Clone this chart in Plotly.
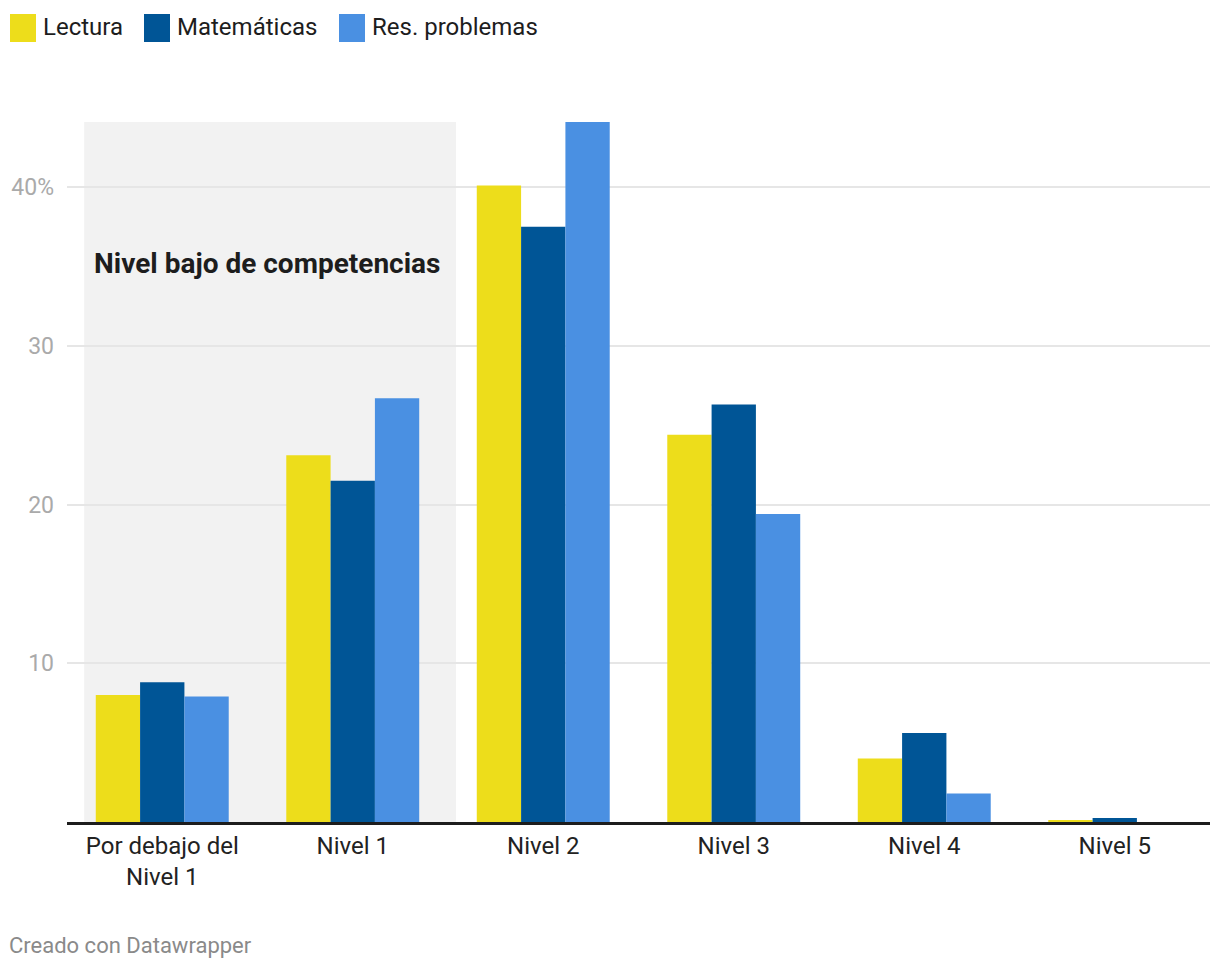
import plotly.graph_objects as go

categories = ["Por debajo del<br>Nivel 1", "Nivel 1", "Nivel 2", "Nivel 3", "Nivel 4", "Nivel 5"]
lectura = [8.0, 23.1, 40.1, 24.4, 4.0, 0.12]
matematicas = [8.8, 21.5, 37.5, 26.3, 5.6, 0.25]
res_problemas = [7.9, 26.7, 44.1, 19.4, 1.8, 0.0]
series_names = ["Lectura", "Matemáticas", "Res. problemas"]
colors = ["#EDDD1B", "#005596", "#4A90E2"]
tick_vals = [10, 20, 30, 40]
tick_text = ["10", "20", "30", "40%"]

W, H = 1220, 972
ML, MR, MT, MB = 67, 10, 122, 150
PW = W - ML - MR
PH = H - MT - MB

def px(xp):
    return (xp - ML) / PW

def py(ypix):
    return (H - MB - ypix) / PH

fig = go.Figure()
for name, vals, col in zip(series_names, [lectura, matematicas, res_problemas], colors):
    fig.add_trace(go.Bar(x=list(range(len(categories))), y=vals, name=name,
                         marker=dict(color=col, line=dict(width=0)), showlegend=False))

# shaded "low competence" region
fig.add_shape(type="rect", xref="x", yref="y", x0=-0.41, x1=1.542, y0=0, y1=44.1,
              fillcolor="#F2F2F2", line=dict(width=0), layer="below")
fig.add_annotation(xref="paper", yref="paper", x=px(92), y=py(263), xanchor="left", yanchor="middle",
                   text="<b>Nivel bajo de competencias</b>", showarrow=False,
                   font=dict(size=28, color="#1d1d1d", family="Roboto"))

# manual legend
legend_items = [(10, "Lectura"), (144, "Matemáticas"), (339, "Res. problemas")]
for (x0, label), col in zip(legend_items, colors):
    fig.add_shape(type="rect", xref="paper", yref="paper",
                  x0=px(x0), x1=px(x0 + 26), y0=py(42), y1=py(14),
                  line=dict(width=0), fillcolor=col)
    fig.add_annotation(xref="paper", yref="paper", x=px(x0 + 31), y=py(27),
                       xanchor="left", yanchor="middle", text=label, showarrow=False,
                       font=dict(size=24, color="#1d1d1d", family="Roboto"))

fig.add_annotation(xref="paper", yref="paper", x=px(7), y=py(946),
                   xanchor="left", yanchor="middle", text="Creado con Datawrapper",
                   showarrow=False, font=dict(size=22, color="#8a8a8a", family="Roboto"))

fig.update_layout(
    width=W, height=H,
    margin=dict(l=ML, r=MR, t=MT, b=MB),
    plot_bgcolor="white", paper_bgcolor="white",
    barmode="group", bargap=0.302, bargroupgap=0,
    font=dict(family="Roboto", size=24, color="#222"),
    xaxis=dict(tickvals=list(range(len(categories))), ticktext=categories,
               range=[-0.5, 5.5], showgrid=False, showline=True, linecolor="#1d1d1d",
               linewidth=2.5, ticks="", tickfont=dict(size=24, color="#222")),
    yaxis=dict(range=[0, 44.1], tickvals=tick_vals, ticktext=tick_text,
               showgrid=True, gridcolor="#E6E6E6", gridwidth=1.5, zeroline=False,
               ticks="", ticklabelstandoff=12, tickfont=dict(size=23, color="#AAAAAA")),
)

fig.write_html("out.html")
